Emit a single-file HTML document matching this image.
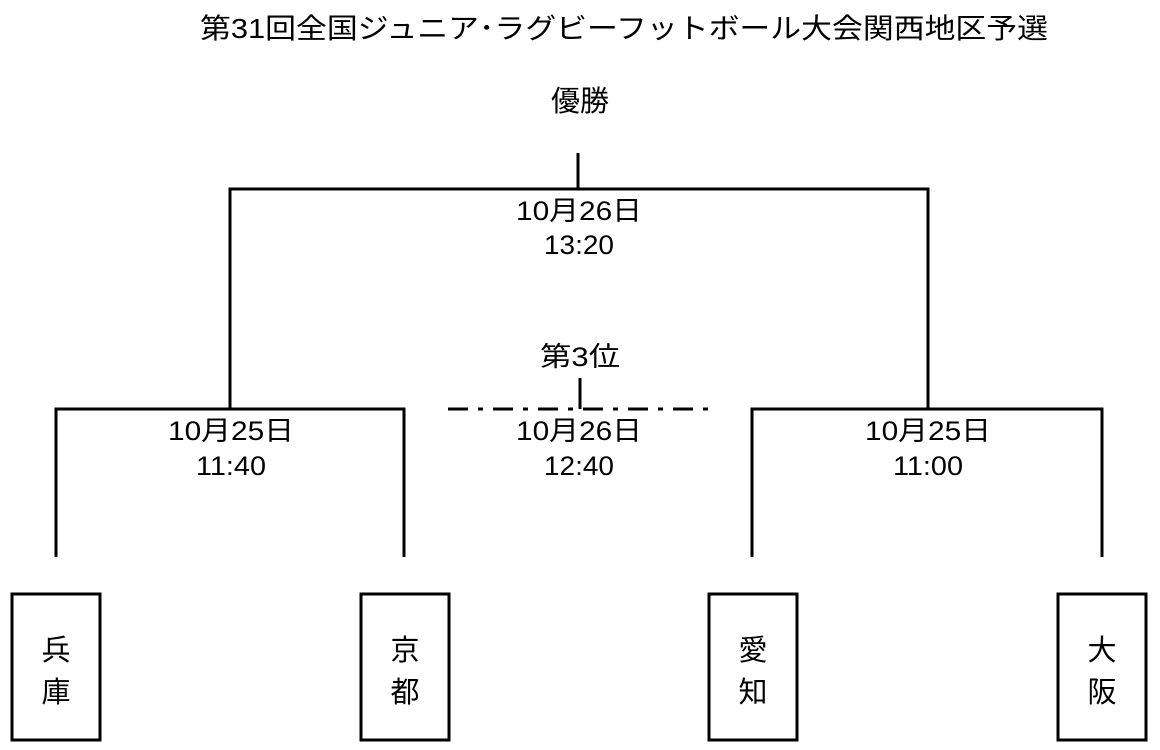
<!DOCTYPE html>
<html><head><meta charset="utf-8"><style>
html,body{margin:0;padding:0;background:#fff;}
svg{display:block;}
text{font-family:"Liberation Sans","Noto Sans CJK JP",sans-serif;fill:#000;}
</style></head><body>
<svg width="1160" height="750" viewBox="0 0 1160 750" xmlns="http://www.w3.org/2000/svg">
<text x="624" y="38" font-size="28" text-anchor="middle" textLength="848" lengthAdjust="spacingAndGlyphs">第31回全国ジュニア･ラグビーフットボール大会関西地区予選</text>
<text x="580" y="111" font-size="29" text-anchor="middle">優勝</text>
<g stroke="#000" stroke-width="3" fill="none">
<line x1="578" y1="153" x2="578" y2="189"/>
<polyline points="230,409 230,189 928,189 928,409"/>
<polyline points="56,557 56,409 404,409 404,557"/>
<polyline points="752,557 752,409 1102,409 1102,557"/>
<line x1="580" y1="378" x2="580" y2="409"/>
<line x1="448" y1="409" x2="712" y2="409" stroke-dasharray="20,10,5,10"/>
<rect x="12" y="594" width="88" height="146"/>
<rect x="361" y="594" width="88" height="146"/>
<rect x="709" y="594" width="88" height="146"/>
<rect x="1058" y="594" width="88" height="146"/>
</g>
<g font-size="27" text-anchor="middle">
<text x="579" y="220" textLength="126" lengthAdjust="spacingAndGlyphs">10月26日</text>
<text x="579" y="254" textLength="70" lengthAdjust="spacingAndGlyphs">13:20</text>
<text x="580" y="366" textLength="80" lengthAdjust="spacingAndGlyphs">第3位</text>
<text x="231" y="440" textLength="126" lengthAdjust="spacingAndGlyphs">10月25日</text>
<text x="231" y="475" textLength="70" lengthAdjust="spacingAndGlyphs">11:40</text>
<text x="579" y="440" textLength="126" lengthAdjust="spacingAndGlyphs">10月26日</text>
<text x="579" y="475" textLength="70" lengthAdjust="spacingAndGlyphs">12:40</text>
<text x="928" y="440" textLength="126" lengthAdjust="spacingAndGlyphs">10月25日</text>
<text x="928" y="475" textLength="70" lengthAdjust="spacingAndGlyphs">11:00</text>
</g>
<g font-size="29" text-anchor="middle">
<text x="56" y="660">兵</text><text x="56" y="702">庫</text>
<text x="405" y="660">京</text><text x="405" y="702">都</text>
<text x="753" y="660">愛</text><text x="753" y="702">知</text>
<text x="1102" y="660">大</text><text x="1102" y="702">阪</text>
</g>
</svg>
</body></html>
